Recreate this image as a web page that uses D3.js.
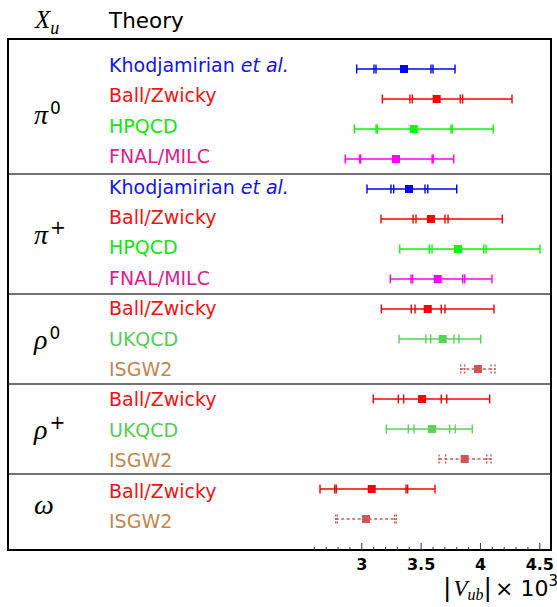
<!DOCTYPE html>
<html>
<head>
<meta charset="utf-8">
<script src="https://cdn.jsdelivr.net/npm/d3@7"></script>
<style>
  body { margin: 0; background: #fff; }
</style>
</head>
<body>
<div id="chart"></div>
<script>
// one entry per row, top to bottom
const theory = ["Khodjamirian", "Ball/Zwicky", "HPQCD", "FNAL/MILC",
                "Khodjamirian", "Ball/Zwicky", "HPQCD", "FNAL/MILC",
                "Ball/Zwicky", "UKQCD", "ISGW2",
                "Ball/Zwicky", "UKQCD", "ISGW2",
                "Ball/Zwicky", "ISGW2"];
const central = [3.360, 3.635, 3.442, 3.292,
                 3.402, 3.587, 3.815, 3.644,
                 3.560, 3.686, 3.983,
                 3.512, 3.596, 3.871,
                 3.088, 3.040];
// error caps left / right of the central value (outermost first)
const lowCaps = [[2.961, 3.107, 3.124], [3.177, 3.410, 3.430], [2.941, 3.124, 3.135], [2.865, 2.987, 2.995],
                 [3.048, 3.250, 3.273], [3.166, 3.436, 3.461], [3.324, 3.573, 3.596], [3.244, 3.419, 3.432],
                 [3.169, 3.421, 3.453], [3.318, 3.545, 3.585], [3.838, 3.871],
                 [3.101, 3.312, 3.357], [3.211, 3.396, 3.444], [3.655, 3.711],
                 [2.652, 2.776, 2.789], [2.784, 2.798]];
const highCaps = [[3.790, 3.604, 3.587], [4.270, 3.854, 3.834], [4.112, 3.767, 3.756], [3.779, 3.606, 3.597],
                  [3.804, 3.560, 3.537], [4.188, 3.731, 3.705], [4.506, 4.051, 4.031], [4.101, 3.871, 3.854],
                  [4.118, 3.705, 3.674], [4.006, 3.823, 3.781], [4.127, 4.093],
                  [4.082, 3.720, 3.674], [3.935, 3.792, 3.745], [4.093, 4.057],
                  [3.621, 3.391, 3.377], [3.295, 3.281]];

// meson groups
const mesonSym = ["π", "π", "ρ", "ρ", "ω"];
const mesonSup = ["0", "+", "0", "+", ""];
const mesonFirst = [0, 4, 8, 11, 14];
const mesonLast = [3, 7, 10, 13, 15];

const majorTicks = [3, 3.5, 4, 4.5];
const minorTicks = d3.range(26, 46).map(d => d / 10).filter(d => !majorTicks.includes(d));

// colours
const textColor = {"Khodjamirian": "#1212f5", "Ball/Zwicky": "#f51212", "HPQCD": "#10e810",
                   "FNAL/MILC": "#e6198c", "UKQCD": "#55cc55", "ISGW2": "#c0884f"};
const barColor = {"Khodjamirian": "#0000ff", "Ball/Zwicky": "#ff0000", "HPQCD": "#00ff00",
                  "FNAL/MILC": "#ff00ff", "UKQCD": "#55d555", "ISGW2": "#d25555"};

var W = 557, H = 607;
var box = {left: 8, right: 551, top: 39, bottom: 550};

var svg = d3.select("#chart")
    .append("svg")
    .attr("width", W)
    .attr("height", H);

// scales
var x = d3.scaleLinear().domain([3, 4.5]).range([361.3, 539.3]);
var yRow = d3.scaleLinear().domain([-1, 16]).range([box.top, 549]);
var yText = d3.scaleLinear().domain([0, 15]).range([72, 528]);

var sans = "DejaVu Sans, sans-serif";
var serif = "Liberation Serif, serif";

// header
var hx = svg.append("text")
    .attr("x", 35).attr("y", 28)
    .style("font-family", serif).style("font-style", "italic").style("font-size", "25px");
hx.append("tspan").text("X");
hx.append("tspan").attr("dy", 6).style("font-size", "18px").text("u");

svg.append("text")
    .attr("x", 109).attr("y", 28)
    .style("font-family", sans).style("font-size", "21.5px")
    .text("Theory");

// group separators
[3.5, 7.5, 10.5, 13.5].forEach(function (r) {
    svg.append("line")
        .attr("x1", box.left).attr("x2", box.right)
        .attr("y1", yRow(r)).attr("y2", yRow(r))
        .attr("stroke", "#444").attr("stroke-width", 1.4);
});

// outer box
svg.append("rect")
    .attr("x", box.left).attr("y", box.top)
    .attr("width", box.right - box.left).attr("height", box.bottom - box.top)
    .attr("fill", "none").attr("stroke", "#000").attr("stroke-width", 2);

// meson labels
mesonSym.forEach(function (s, i) {
    var mid = yRow((mesonFirst[i] + mesonLast[i]) / 2) + 9.5;
    var t = svg.append("text")
        .attr("x", 34).attr("y", mid)
        .style("font-family", serif).style("font-style", "italic").style("font-size", "28px");
    t.append("tspan").text(s);
    if (mesonSup[i]) {
        t.append("tspan")
            .attr("dx", 2).attr("dy", mesonSup[i] === "0" ? -9.5 : -10)
            .style("font-family", sans).style("font-style", "normal")
            .style("font-size", mesonSup[i] === "0" ? "17px" : "19px")
            .text(mesonSup[i]);
    }
});

// theory labels
theory.forEach(function (name, i) {
    var t = svg.append("text")
        .attr("x", 109).attr("y", yText(i))
        .attr("fill", textColor[name])
        .style("font-family", sans).style("font-size", "19px");
    if (name === "Khodjamirian") {
        t.append("tspan").text("Khodjamirian ");
        t.append("tspan").style("font-style", "italic").text("et al.");
    } else {
        t.text(name);
    }
});

// error bars
var bars = svg.append("g").selectAll("g")
    .data(theory.map((name, i) => ({name: name, i: i, c: central[i], lo: lowCaps[i], hi: highCaps[i]})))
    .join("g")
    .attr("stroke", d => barColor[d.name])
    .attr("fill", d => barColor[d.name]);

bars.append("line")
    .attr("x1", d => x(d3.min(d.lo))).attr("x2", d => x(d3.max(d.hi)))
    .attr("y1", d => yRow(d.i)).attr("y2", d => yRow(d.i))
    .attr("stroke-width", 1.4)
    .attr("stroke-dasharray", d => d.name === "ISGW2" ? "3,2.5" : null);

bars.selectAll("line.cap")
    .data(d => d.lo.concat(d.hi).map(v => ({v: v, i: d.i, name: d.name})))
    .join("line")
    .attr("class", "cap")
    .attr("x1", d => x(d.v)).attr("x2", d => x(d.v))
    .attr("y1", d => yRow(d.i) - 4.5).attr("y2", d => yRow(d.i) + 4.5)
    .attr("stroke-width", 1.4)
    .attr("stroke-dasharray", d => d.name === "ISGW2" ? "2,1.5" : null);

bars.append("rect")
    .attr("x", d => x(d.c) - 4).attr("y", d => yRow(d.i) - 4)
    .attr("width", 8).attr("height", 8)
    .attr("stroke", "none");

// axis ticks (pointing inwards)
svg.append("g")
    .attr("transform", `translate(0,${box.bottom})`)
    .call(d3.axisBottom(x).tickValues(minorTicks).tickSize(-3).tickFormat(""))
    .call(g => g.select(".domain").remove())
    .call(g => g.selectAll("line").attr("stroke", "#333"));

svg.append("g")
    .attr("transform", `translate(0,${box.bottom})`)
    .call(d3.axisBottom(x).tickValues(majorTicks).tickSize(-7).tickPadding(9).tickFormat(d => String(d)))
    .call(g => g.select(".domain").remove())
    .call(g => g.selectAll("line").attr("stroke", "#333"))
    .call(g => g.selectAll("text")
        .attr("fill", "#000")
        .style("font-family", sans).style("font-weight", "bold").style("font-size", "16px"));

// axis title |V_ub| x 10^3
var at = svg.append("text")
    .attr("x", 558).attr("y", 596)
    .attr("text-anchor", "end")
    .style("font-family", sans).style("font-size", "22px");
at.append("tspan").style("font-size", "25px").text("|");
at.append("tspan").attr("dx", 2).style("font-family", serif).style("font-style", "italic").style("font-size", "23px").text("V");
at.append("tspan").attr("dy", 4).style("font-family", serif).style("font-style", "italic").style("font-size", "16px").text("ub");
at.append("tspan").attr("dy", -4).style("font-size", "25px").text("|");
at.append("tspan").attr("dx", 3).text("× 10");
at.append("tspan").attr("dy", -10).style("font-size", "15px").text("3");
</script>
</body>
</html>
